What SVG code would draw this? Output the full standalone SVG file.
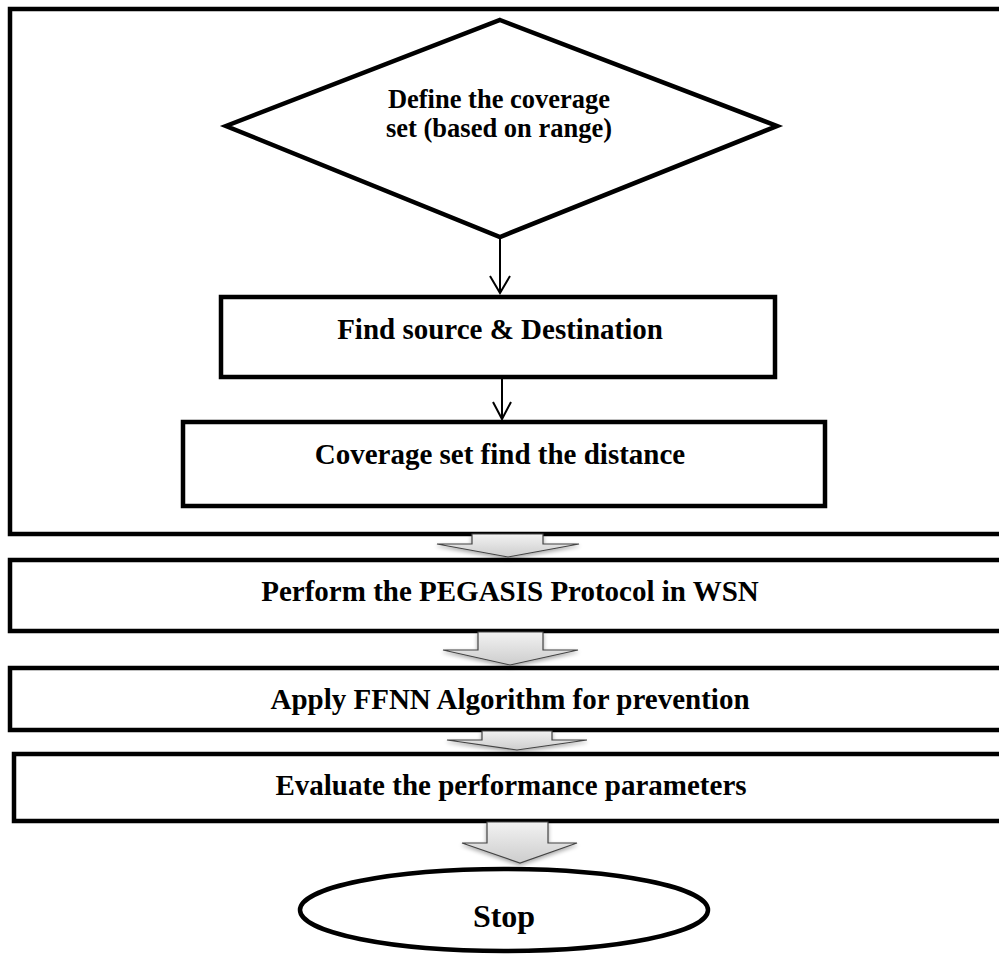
<svg xmlns="http://www.w3.org/2000/svg" width="999" height="956" viewBox="0 0 999 956">
<style>
.box{fill:#fff;stroke:#000;stroke-width:4.5}
.frame{fill:none;stroke:#000;stroke-width:4.5}
.t{font-family:"Liberation Serif","Times New Roman",serif;font-weight:bold;font-size:29px;fill:#000;text-anchor:middle}
.td{font-size:26.5px}
.ts{font-size:32px}
.ln{fill:none;stroke:#000;stroke-width:2}
.blk{fill:url(#g);stroke:#444;stroke-width:1.2;filter:url(#sh)}
</style>
<defs>
<linearGradient id="g" x1="0" y1="0" x2="0" y2="1">
<stop offset="0" stop-color="#f2f2f2"/>
<stop offset="1" stop-color="#cdcdcd"/>
</linearGradient>
<filter id="sh" x="-20%" y="-20%" width="140%" height="160%">
<feGaussianBlur in="SourceAlpha" stdDeviation="2"/>
<feOffset dy="2" result="b"/>
<feComponentTransfer><feFuncA type="linear" slope="0.35"/></feComponentTransfer>
<feMerge><feMergeNode/><feMergeNode in="SourceGraphic"/></feMerge>
</filter>
</defs>
<g id="frame"><rect class="frame" x="10" y="9" width="1010" height="525"/></g>
<g id="n-define">
<polygon class="box" points="500,20 777,126 500,237 226,126"/>
<text class="t td" x="499" y="108">Define the coverage</text>
<text class="t td" x="499" y="137">set (based on range)</text>
</g>
<g id="n-find">
<rect class="box" x="221" y="297" width="554" height="80"/>
<text class="t" x="500" y="339">Find source &amp; Destination</text>
</g>
<g id="n-coverage">
<rect class="box" x="183" y="422" width="642" height="84"/>
<text class="t" x="500" y="464">Coverage set find the distance</text>
</g>
<g id="n-perform">
<rect class="box" x="10" y="560" width="1010" height="71"/>
<text class="t" x="510" y="601">Perform the PEGASIS Protocol in WSN</text>
</g>
<g id="n-apply">
<rect class="box" x="10" y="668" width="1010" height="62"/>
<text class="t" x="510" y="709">Apply FFNN Algorithm for prevention</text>
</g>
<g id="n-evaluate">
<rect class="box" x="14" y="754" width="1010" height="67"/>
<text class="t" x="511" y="795">Evaluate the performance parameters</text>
</g>
<g id="n-stop">
<ellipse class="box" cx="504" cy="910" rx="204" ry="41"/>
<text class="t ts" x="504" y="927">Stop</text>
</g>
<g id="connectors">
<path class="ln" d="M500,239 V293 M490,276 L500,293 L510,276"/>
<path class="ln" d="M502,379 V419 M493,402 L502,419 L511,402"/>
<polygon class="blk" points="472,534 543,534 543,544 579,544 508,557 437,544 472,544"/>
<polygon class="blk" points="478,632 543,632 543,650 578,650 510,665 443,650 478,650"/>
<polygon class="blk" points="482,731 552,731 552,740 587,740 517,750 447,740 482,740"/>
<polygon class="blk" points="487,822 548,822 548,843 577,843 520,863 462,843 487,843"/>
</g>
</svg>
